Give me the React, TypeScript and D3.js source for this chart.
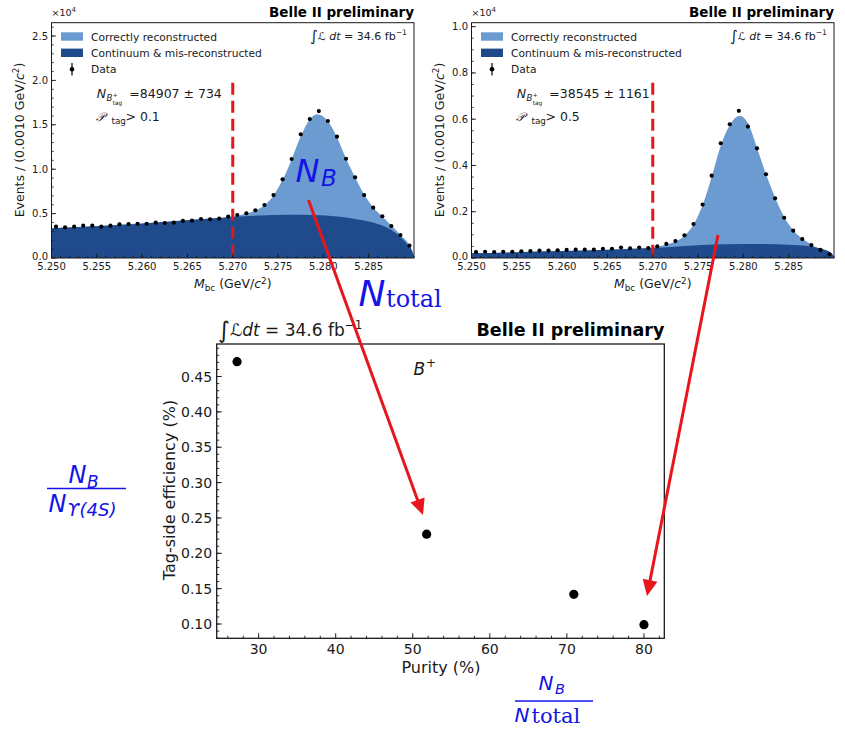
import React from "react";
import * as d3 from "d3";

const SANS = "'DejaVu Sans', sans-serif";
const SERIF = "'DejaVu Serif', serif";

const LIGHT = "#6c9bd2";
const DARK = "#1f4a8c";
const RED = "#e8161c";
const BLUE = "#1414e6";
const INK = "#1a1a1a";

// Mbc bin centres (GeV/c^2), 1 MeV bins
const mbcBins = [
  5.2505, 5.2515, 5.2525, 5.2535, 5.2545, 5.2555, 5.2565, 5.2575, 5.2585, 5.2595,
  5.2605, 5.2615, 5.2625, 5.2635, 5.2645, 5.2655, 5.2665, 5.2675, 5.2685, 5.2695,
  5.2705, 5.2715, 5.2725, 5.2735, 5.2745, 5.2755, 5.2765, 5.2775, 5.2785, 5.2795,
  5.2805, 5.2815, 5.2825, 5.2835, 5.2845, 5.2855, 5.2865, 5.2875, 5.2885, 5.2895,
];
const mbcTicks = [5.25, 5.255, 5.26, 5.265, 5.27, 5.275, 5.28, 5.285];

// Events per bin (x10^4), P_tag > 0.1
const looseCounts = [
  0.353, 0.345, 0.353, 0.364, 0.364, 0.353, 0.364, 0.379, 0.383, 0.386,
  0.386, 0.398, 0.394, 0.398, 0.417, 0.42, 0.439, 0.436, 0.443, 0.467,
  0.484, 0.503, 0.537, 0.597, 0.709, 0.886, 1.115, 1.393, 1.565, 1.655,
  1.543, 1.366, 1.118, 0.909, 0.709, 0.567, 0.47, 0.36, 0.259, 0.139,
];
// Fit: total model and continuum + mis-reconstructed component
const looseFitX = [5.25, 5.255, 5.26, 5.265, 5.27, 5.2715, 5.2725, 5.2735, 5.2745, 5.2755, 5.2765, 5.2775, 5.2785, 5.2793, 5.2805, 5.2815, 5.2825, 5.2835, 5.2845, 5.2855, 5.2865, 5.2875, 5.2885, 5.2895, 5.29];
const looseFitTotal = [0.335, 0.36, 0.39, 0.428, 0.468, 0.5, 0.535, 0.595, 0.705, 0.88, 1.11, 1.37, 1.56, 1.62, 1.54, 1.36, 1.12, 0.91, 0.715, 0.57, 0.47, 0.365, 0.26, 0.145, 0.04];
const looseBgX = [5.25, 5.255, 5.26, 5.265, 5.27, 5.273, 5.276, 5.279, 5.2815, 5.2835, 5.2855, 5.2865, 5.2875, 5.2885, 5.2893, 5.2898, 5.29];
const looseBg = [0.335, 0.358, 0.385, 0.425, 0.462, 0.478, 0.486, 0.484, 0.466, 0.44, 0.4, 0.365, 0.315, 0.24, 0.15, 0.075, 0.0];

// Events per bin (x10^4), P_tag > 0.5
const tightCounts = [
  0.026, 0.027, 0.026, 0.027, 0.027, 0.029, 0.03, 0.032, 0.032, 0.033,
  0.035, 0.036, 0.036, 0.036, 0.04, 0.04, 0.045, 0.042, 0.045, 0.043,
  0.05, 0.061, 0.073, 0.098, 0.147, 0.231, 0.356, 0.496, 0.578, 0.636,
  0.568, 0.474, 0.362, 0.258, 0.174, 0.118, 0.082, 0.056, 0.035, 0.016,
];
const tightFitX = [5.25, 5.255, 5.26, 5.265, 5.27, 5.2715, 5.2725, 5.2735, 5.2745, 5.2755, 5.2765, 5.2775, 5.2785, 5.2796, 5.2805, 5.2815, 5.2825, 5.2835, 5.2845, 5.2855, 5.2865, 5.2875, 5.2885, 5.2895, 5.29];
const tightFitTotal = [0.02, 0.025, 0.03, 0.036, 0.045, 0.058, 0.071, 0.096, 0.145, 0.228, 0.35, 0.485, 0.575, 0.615, 0.583, 0.477, 0.362, 0.262, 0.178, 0.12, 0.084, 0.058, 0.038, 0.018, 0.004];
const tightBgX = [5.25, 5.255, 5.26, 5.265, 5.27, 5.274, 5.278, 5.282, 5.285, 5.2875, 5.2888, 5.2895, 5.2899, 5.29];
const tightBg = [0.02, 0.025, 0.03, 0.036, 0.043, 0.053, 0.059, 0.06, 0.057, 0.049, 0.038, 0.027, 0.012, 0.0];

// Tag-side efficiency vs purity, B+
const purity = [27.2, 51.8, 70.9, 80.0];
const tagEfficiency = [0.471, 0.227, 0.142, 0.099];
const purityTicks = [30, 40, 50, 60, 70, 80];
const efficiencyTicks = [0.1, 0.15, 0.2, 0.25, 0.3, 0.35, 0.4, 0.45];

type PanelProps = {
  left: number;
  right: number;
  yMax: number;
  yTicks: number[];
  yMinorStep: number;
  counts: number[];
  fitX: number[];
  fitTotal: number[];
  bgX: number[];
  bg: number[];
  yieldText: string;
  cutText: string;
  clipId: string;
};

function Lumi({ x, y, size, anchor, spaced }: { x: number; y: number; size: number; anchor: "start" | "end"; spaced: boolean }) {
  return (
    <text x={x} y={y} fontSize={size} fontFamily={SANS} fill={INK} textAnchor={anchor}>
      <tspan fontSize={size * 1.35} dy={size * 0.12}>∫</tspan>
      <tspan dy={-size * 0.12} fontStyle="italic">ℒ</tspan>
      <tspan fontStyle="italic">{spaced ? " dt" : "dt"}</tspan>
      <tspan> = 34.6 fb</tspan>
      <tspan fontSize={size * 0.7} dy={-size * 0.42}>−1</tspan>
    </text>
  );
}

function MassPanel(p: PanelProps) {
  const top = 22.7;
  const bottom = 258;
  const x = d3.scaleLinear().domain([5.25, 5.29]).range([p.left, p.right]);
  const y = d3.scaleLinear().domain([0, p.yMax]).range([bottom, top]);

  const totalPath =
    d3
      .area<number>()
      .x((_, i) => x(p.fitX[i]))
      .y0(bottom)
      .y1((v) => y(v))
      .curve(d3.curveMonotoneX)(p.fitTotal) || "";
  const bgPath =
    d3
      .area<number>()
      .x((_, i) => x(p.bgX[i]))
      .y0(bottom)
      .y1((v) => y(v))
      .curve(d3.curveMonotoneX)(p.bg) || "";

  const minorX = d3.range(0, 41).map((i) => 5.25 + i * 0.001);
  const minorY = d3.range(0, Math.floor(p.yMax / p.yMinorStep + 1e-6) + 1).map((i) => i * p.yMinorStep);
  const L = p.left;
  const R = p.right;
  const fmt3 = d3.format(".3f");
  const fmt1 = d3.format(".1f");
  const cutTop = bottom - 0.745 * (bottom - top);

  return (
    <g>
      <defs>
        <clipPath id={p.clipId}>
          <rect x={L} y={top} width={R - L} height={bottom - top} />
        </clipPath>
      </defs>
      <g clipPath={`url(#${p.clipId})`}>
        <path d={totalPath} fill={LIGHT} />
        <path d={bgPath} fill={DARK} />
        {p.counts.map((c, i) => (
          <circle key={i} cx={x(mbcBins[i])} cy={y(c)} r={2.1} fill="#000" />
        ))}
      </g>
      <line
        x1={x(5.27)}
        x2={x(5.27)}
        y1={cutTop}
        y2={bottom}
        stroke={RED}
        strokeWidth={3}
        strokeDasharray="12,6"
      />
      {/* ticks */}
      {minorX.map((t, i) => (
        <line key={"mx" + i} x1={x(t)} x2={x(t)} y1={bottom} y2={bottom - 2.2} stroke={INK} strokeWidth={0.8} />
      ))}
      {mbcTicks.map((t, i) => (
        <g key={"X" + i}>
          <line x1={x(t)} x2={x(t)} y1={bottom} y2={bottom - 4.5} stroke={INK} strokeWidth={0.9} />
          <text x={x(t)} y={269.5} fontSize={10} fontFamily={SANS} fill={INK} textAnchor="middle">
            {fmt3(t)}
          </text>
        </g>
      ))}
      {minorY.map((t, i) => (
        <line key={"my" + i} x1={L} x2={L + 2.2} y1={y(t)} y2={y(t)} stroke={INK} strokeWidth={0.8} />
      ))}
      {p.yTicks.map((t, i) => (
        <g key={"Y" + i}>
          <line x1={L} x2={L + 4.5} y1={y(t)} y2={y(t)} stroke={INK} strokeWidth={0.9} />
          <text
            x={L - 3.5}
            y={y(t) + (t === 0 ? -1.5 : 0)}
            fontSize={10}
            fontFamily={SANS}
            fill={INK}
            textAnchor="end"
            dominantBaseline="central"
          >
            {fmt1(t)}
          </text>
        </g>
      ))}
      <rect x={L} y={top} width={R - L} height={bottom - top} fill="none" stroke={INK} strokeWidth={1} />

      {/* axis labels */}
      <text x={(L + R) / 2} y={288} fontSize={12.5} fontFamily={SANS} fill={INK} textAnchor="middle">
        <tspan fontStyle="italic">M</tspan>
        <tspan fontSize={8.8} dy={2.5}>bc</tspan>
        <tspan dy={-2.5}> (GeV/</tspan>
        <tspan fontStyle="italic">c</tspan>
        <tspan fontSize={8.8} dy={-4.5}>2</tspan>
        <tspan dy={4.5}>)</tspan>
      </text>
      <text
        transform={`translate(${L - 28},140) rotate(-90)`}
        fontSize={12.5}
        fontFamily={SANS}
        fill={INK}
        textAnchor="middle"
      >
        <tspan>Events / (0.0010 GeV/</tspan>
        <tspan fontStyle="italic">c</tspan>
        <tspan fontSize={8.8} dy={-4.5}>2</tspan>
        <tspan dy={4.5}>)</tspan>
      </text>
      <text x={L} y={15.5} fontSize={9.5} fontFamily={SANS} fill={INK}>
        ×10<tspan fontSize={7} dy={-3.5}>4</tspan>
      </text>
      <text x={R} y={16.5} fontSize={13.5} fontWeight="bold" fontFamily={SANS} fill="#000" textAnchor="end">
        Belle II preliminary
      </text>
      <Lumi x={R - 7} y={40} size={11} anchor="end" spaced={true} />

      {/* legend */}
      <rect x={L + 9.5} y={32.3} width={22} height={8.4} fill={LIGHT} />
      <rect x={L + 9.5} y={48.6} width={22} height={8.4} fill={DARK} />
      <line x1={L + 20.5} x2={L + 20.5} y1={63} y2={75.5} stroke="#000" strokeWidth={1.2} />
      <circle cx={L + 20.5} cy={69.2} r={2.3} fill="#000" />
      <text x={L + 39.5} y={40.5} fontSize={10.7} fontFamily={SANS} fill={INK}>Correctly reconstructed</text>
      <text x={L + 39.5} y={56.6} fontSize={10.7} fontFamily={SANS} fill={INK}>Continuum &amp; mis-reconstructed</text>
      <text x={L + 39.5} y={72.7} fontSize={10.7} fontFamily={SANS} fill={INK}>Data</text>

      {/* fit yield and signal-probability cut */}
      <text x={L + 45.2} y={98.3} fontSize={12.5} fontStyle="italic" fontFamily={SANS} fill={INK}>N</text>
      <text x={L + 55} y={101.3} fontSize={8.6} fontStyle="italic" fontFamily={SANS} fill={INK}>B</text>
      <text x={L + 61.2} y={96.6} fontSize={5.8} fontFamily={SANS} fill={INK}>+</text>
      <text x={L + 61.2} y={104.6} fontSize={5.8} fontFamily={SANS} fill={INK}>tag</text>
      <text x={L + 77.8} y={98.3} fontSize={12.5} fontFamily={SANS} fill={INK}>{p.yieldText}</text>
      <text x={L + 44.5} y={120.5} fontSize={12} fontStyle="italic" fontFamily={SANS} fill={INK}>𝒫</text>
      <text x={L + 60} y={123.5} fontSize={8.8} fontFamily={SANS} fill={INK}>tag</text>
      <text x={L + 74} y={120.5} fontSize={12.5} fontFamily={SANS} fill={INK}>{p.cutText}</text>
    </g>
  );
}

function EfficiencyPanel() {
  const left = 216.7;
  const right = 664.3;
  const top = 344;
  const bottom = 638.3;
  const x = d3.scaleLinear().domain([24.56, 82.64]).range([left, right]);
  const y = d3.scaleLinear().domain([0.0798, 0.496]).range([bottom, top]);
  const minorX = d3.range(26, 83, 2).filter((v) => v % 10 !== 0);
  const minorY = d3.range(8, 50).map((v) => v / 100);
  const fmt2 = d3.format(".2f");
  return (
    <g>
      {minorX.map((t, i) => (
        <line key={"mx" + i} x1={x(t)} x2={x(t)} y1={bottom} y2={bottom - 2.6} stroke={INK} strokeWidth={0.9} />
      ))}
      {purityTicks.map((t, i) => (
        <g key={"X" + i}>
          <line x1={x(t)} x2={x(t)} y1={bottom} y2={bottom - 5} stroke={INK} strokeWidth={1} />
          <text x={x(t)} y={653.5} fontSize={14} fontFamily={SANS} fill={INK} textAnchor="middle">
            {t}
          </text>
        </g>
      ))}
      {minorY.map((t, i) => (
        <line key={"my" + i} x1={left} x2={left + 2.6} y1={y(t)} y2={y(t)} stroke={INK} strokeWidth={0.9} />
      ))}
      {efficiencyTicks.map((t, i) => (
        <g key={"Y" + i}>
          <line x1={left} x2={left + 5} y1={y(t)} y2={y(t)} stroke={INK} strokeWidth={1} />
          <text x={left - 4.5} y={y(t)} fontSize={14} fontFamily={SANS} fill={INK} textAnchor="end" dominantBaseline="central">
            {fmt2(t)}
          </text>
        </g>
      ))}
      <rect x={left} y={top} width={right - left} height={bottom - top} fill="none" stroke={INK} strokeWidth={1.3} />
      {purity.map((v, i) => (
        <circle key={i} cx={x(v)} cy={y(tagEfficiency[i])} r={4.6} fill="#000" />
      ))}
      <text x={(left + right) / 2 + 0.5} y={673} fontSize={16} fontFamily={SANS} fill={INK} textAnchor="middle">
        Purity (%)
      </text>
      <text transform={`translate(174.5,490) rotate(-90)`} fontSize={16} fontFamily={SANS} fill={INK} textAnchor="middle">
        Tag-side efficiency (%)
      </text>
      <Lumi x={218} y={336} size={17} anchor="start" spaced={false} />
      <text x={right} y={336} fontSize={17.5} fontWeight="bold" fontFamily={SANS} fill="#000" textAnchor="end">
        Belle II preliminary
      </text>
      <text x={413.5} y={375} fontSize={17} fontStyle="italic" fontFamily={SANS} fill={INK}>B</text>
      <text x={426} y={366.5} fontSize={12} fontFamily={SANS} fill={INK}>+</text>
    </g>
  );
}

function Arrow({ x1, y1, x2, y2 }: { x1: number; y1: number; x2: number; y2: number }) {
  const ang = Math.atan2(y2 - y1, x2 - x1);
  const len = 16;
  const half = 7.5;
  const bx = x2 - len * Math.cos(ang);
  const by = y2 - len * Math.sin(ang);
  const nx = -Math.sin(ang);
  const ny = Math.cos(ang);
  const head = `${x2},${y2} ${bx + half * nx},${by + half * ny} ${bx - half * nx},${by - half * ny}`;
  return (
    <g>
      <line x1={x1} y1={y1} x2={bx + 2 * Math.cos(ang)} y2={by + 2 * Math.sin(ang)} stroke={RED} strokeWidth={3} />
      <polygon points={head} fill={RED} />
    </g>
  );
}

function BlueNotes() {
  return (
    <g fill={BLUE}>
      {/* yield label on the peak */}
      <text x={295.5} y={181.7} fontSize={32} fontStyle="italic" fontFamily={SANS}>N</text>
      <text x={321} y={186} fontSize={23} fontStyle="italic" fontFamily={SANS}>B</text>
      {/* total events label */}
      <text x={358.5} y={305.5} fontSize={36} fontStyle="italic" fontFamily={SANS}>N</text>
      <text x={386} y={306.5} fontSize={24} fontFamily={SERIF}>total</text>

      {/* efficiency definition */}
      <text x={68.5} y={483} fontSize={24} fontStyle="italic" fontFamily={SANS}>N</text>
      <text x={87} y={487.5} fontSize={17} fontStyle="italic" fontFamily={SANS}>B</text>
      <line x1={47} x2={126} y1={488.5} y2={488.5} stroke={BLUE} strokeWidth={1.5} />
      <text x={48.5} y={511.5} fontSize={24} fontStyle="italic" fontFamily={SANS}>N</text>
      <text x={67} y={515.5} fontSize={18} fontStyle="italic" fontFamily={SANS}>ϒ(4S)</text>

      {/* purity definition */}
      <text x={538.5} y={690} fontSize={20} fontStyle="italic" fontFamily={SANS}>N</text>
      <text x={555} y={694} fontSize={14.5} fontStyle="italic" fontFamily={SANS}>B</text>
      <line x1={515} x2={593} y1={701} y2={701} stroke={BLUE} strokeWidth={1.5} />
      <text x={514.5} y={721.5} fontSize={20} fontStyle="italic" fontFamily={SANS}>N</text>
      <text x={531.5} y={722.5} fontSize={21} fontFamily={SERIF}>total</text>
    </g>
  );
}

export default function App() {
  return (
    <div style={{ position: "absolute", left: 0, top: 0 }}>
      <svg width={845} height={732} viewBox="0 0 845 732" style={{ display: "block", background: "#fff" }}>
        <rect x={0} y={0} width={845} height={732} fill="#fff" />
        <MassPanel
          left={51.5}
          right={414}
          yMax={2.65}
          yTicks={[0, 0.5, 1.0, 1.5, 2.0, 2.5]}
          yMinorStep={0.1}
          counts={looseCounts}
          fitX={looseFitX}
          fitTotal={looseFitTotal}
          bgX={looseBgX}
          bg={looseBg}
          yieldText="=84907 ± 734"
          cutText="> 0.1"
          clipId="clipLoose"
        />
        <MassPanel
          left={471.5}
          right={834}
          yMax={1.017}
          yTicks={[0, 0.2, 0.4, 0.6, 0.8, 1.0]}
          yMinorStep={0.05}
          counts={tightCounts}
          fitX={tightFitX}
          fitTotal={tightFitTotal}
          bgX={tightBgX}
          bg={tightBg}
          yieldText="=38545 ± 1161"
          cutText="> 0.5"
          clipId="clipTight"
        />
        <EfficiencyPanel />
        <BlueNotes />
        <Arrow x1={308.5} y1={200} x2={423} y2={515} />
        <Arrow x1={718} y1={235} x2={647} y2={596} />
      </svg>
    </div>
  );
}
